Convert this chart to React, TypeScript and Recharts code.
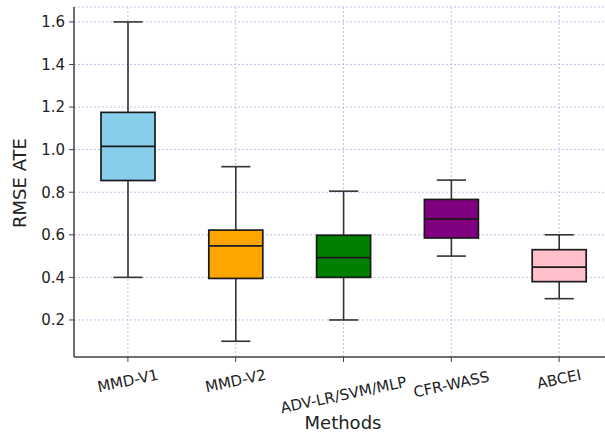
import {
  ComposedChart,
  Bar,
  XAxis,
  YAxis,
  CartesianGrid,
} from "recharts";

const METHODS = ["MMD-V1", "MMD-V2", "ADV-LR/SVM/MLP", "CFR-WASS", "ABCEI"];
const WHISKER_LOW = [0.4, 0.1, 0.2, 0.5, 0.3];
const Q1 = [0.855, 0.395, 0.4, 0.585, 0.38];
const MEDIAN = [1.015, 0.548, 0.493, 0.675, 0.448];
const Q3 = [1.175, 0.622, 0.598, 0.766, 0.53];
const WHISKER_HIGH = [1.6, 0.92, 0.805, 0.857, 0.6];
const BOX_COLORS = ["#87ceeb", "#ffa500", "#008000", "#800080", "#ffc0cb"];
const Y_TICKS = [0.2, 0.4, 0.6, 0.8, 1.0, 1.2, 1.4, 1.6];

const data = METHODS.map((method, i) => ({
  method,
  range: [WHISKER_LOW[i], WHISKER_HIGH[i]],
  q1: Q1[i],
  median: MEDIAN[i],
  q3: Q3[i],
  color: BOX_COLORS[i],
}));

const FONT = "'DejaVu Sans', sans-serif";

// box drawn inside the [low, high] range bar; inner values mapped linearly
function BoxShape(props: any) {
  const { x, y, width, height, payload } = props;
  const [lo, hi] = payload.range;
  const top = Math.min(y, y + height);
  const bot = Math.max(y, y + height);
  const py = (v: number) => bot - ((v - lo) / (hi - lo)) * (bot - top);
  const cx = x + width / 2;
  const cap = width * 0.27;
  const yq1 = py(payload.q1);
  const yq3 = py(payload.q3);
  const ymed = py(payload.median);
  const stroke = "#1a1a1a";
  return (
    <g>
      <line x1={cx} x2={cx} y1={top} y2={yq3} stroke="#333" strokeWidth={1.6} />
      <line x1={cx} x2={cx} y1={yq1} y2={bot} stroke="#333" strokeWidth={1.6} />
      <line x1={cx - cap} x2={cx + cap} y1={top} y2={top} stroke="#333" strokeWidth={1.6} />
      <line x1={cx - cap} x2={cx + cap} y1={bot} y2={bot} stroke="#333" strokeWidth={1.6} />
      <rect
        x={x}
        y={yq3}
        width={width}
        height={yq1 - yq3}
        fill={payload.color}
        stroke={stroke}
        strokeWidth={1.7}
      />
      <line x1={x} x2={x + width} y1={ymed} y2={ymed} stroke={stroke} strokeWidth={1.7} />
    </g>
  );
}

// rotated labels sit lower the longer they are (top of rotated box at the tick)
function RotatedTick(props: any) {
  const { x, y, payload } = props;
  const label = String(payload.value);
  const cy = y + 6.5 + label.length * 1.75;
  return (
    <text
      x={x}
      y={cy}
      transform={`rotate(-12, ${x}, ${cy})`}
      textAnchor="middle"
      dominantBaseline="central"
      fontFamily={FONT}
      fontSize={15}
      fill="#222"
    >
      {label}
    </text>
  );
}

function YLabel() {
  return (
    <text
      x={19}
      y={183}
      transform="rotate(-90, 19, 183)"
      textAnchor="middle"
      dominantBaseline="central"
      fontFamily={FONT}
      fontSize={18}
      fill="#222"
    >
      RMSE ATE
    </text>
  );
}

function XLabel() {
  return (
    <text
      x={343}
      y={429}
      textAnchor="middle"
      fontFamily={FONT}
      fontSize={18}
      fill="#222"
    >
      Methods
    </text>
  );
}

export default function App() {
  return (
    <div
      style={{
        position: "fixed",
        top: 0,
        left: 0,
        width: 605,
        height: 435,
        overflow: "hidden",
        background: "#fff",
      }}
    >
      <ComposedChart
        width={613}
        height={435}
        data={data}
        margin={{ top: 7, right: 0, left: 0, bottom: 0 }}
      >
        <CartesianGrid stroke="#bfbff0" strokeDasharray="2 2" />
        <XAxis
          dataKey="method"
          height={78}
          interval={0}
          tick={<RotatedTick />}
          tickSize={5}
          tickMargin={2}
          axisLine={{ stroke: "#444", strokeWidth: 1.5 }}
          tickLine={{ stroke: "#444" }}
          label={{ content: () => <XLabel /> }}
        />
        <XAxis
          xAxisId="top"
          orientation="top"
          dataKey="method"
          height={0}
          tick={false}
          tickLine={false}
          axisLine={{ stroke: "#444", strokeWidth: 1.5 }}
        />
        <YAxis
          type="number"
          domain={[0.026, 1.67]}
          ticks={Y_TICKS}
          width={74}
          tickFormatter={(v: number) => v.toFixed(1)}
          tick={{ fontFamily: FONT, fontSize: 15, fill: "#222" }}
          tickSize={5}
          tickMargin={4}
          axisLine={{ stroke: "#444", strokeWidth: 1.5 }}
          tickLine={{ stroke: "#444" }}
          label={{ content: () => <YLabel /> }}
        />
        <Bar dataKey="range" barSize={54} shape={<BoxShape />} isAnimationActive={false} />
      </ComposedChart>
    </div>
  );
}
